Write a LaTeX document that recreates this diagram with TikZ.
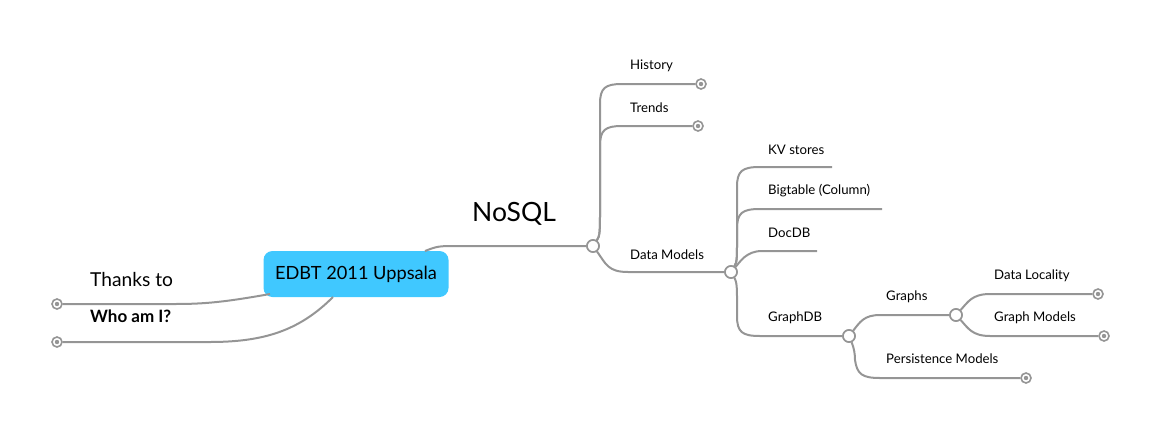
\documentclass[tikz,border=0pt]{standalone}
\usepackage{fontspec}
\setmainfont{Lato}
\definecolor{ln}{HTML}{959595}
\definecolor{cent}{HTML}{40C8FF}
\tikzset{
  br/.style={draw=ln, line width=2pt},
  knot/.style={circle, draw=ln, line width=1.6pt, fill=white, minimum size=12pt, inner sep=0pt},
  leaf/.style={circle, draw=ln, line width=1.6pt, fill=white, minimum size=10pt, inner sep=0pt, path picture={\fill[ln] (path picture bounding box.center) circle (2.2pt);}},
  lbl/.style={anchor=west, inner sep=0pt, font=\fontsize{13.2}{15}\selectfont},
}
\begin{document}
\begin{tikzpicture}[x=1pt,y=-1pt]
\useasboundingbox (0,0) rectangle (1161,426);
% central
\node[fill=cent, rounded corners=9pt, minimum width=185pt, minimum height=46pt, font=\fontsize{18.2}{20}\selectfont] (c) at (356,274) {EDBT 2011 Uppsala};
% left
\node[leaf] (t) at (57,304) {};
\node[leaf] (w) at (57,342) {};
\draw[br] (270,294) coordinate (c1) .. controls (225,302) and (205,304) .. (175,304) -- (t);
\draw[br] (333,297) coordinate (c2) .. controls (300,330) and (265,342) .. (210,342) -- (w);
\node[anchor=west, inner sep=0pt, font=\fontsize{19.2}{21}\selectfont] (tl) at (90,279) {Thanks to};
\node[anchor=west, inner sep=0pt, font=\fontsize{17}{19}\selectfont\bfseries] (wl) at (90,316) {Who am I?};
% NoSQL
\node[knot] (n) at (593,246) {};
\draw[br] (425,251) coordinate (c3) .. controls (438,246) .. (460,246) -- (n);
\node[anchor=west, inner sep=0pt, font=\fontsize{26.5}{28}\selectfont] (nl) at (472,214) {NoSQL};
\node[leaf] (h) at (701,84) {};
\node[leaf] (tr) at (698,126) {};
\node[knot] (dm) at (731,272) {};
\draw[br] (n) .. controls (600,236) and (600,230) .. (600,210) -- (600,104) .. controls (600,88) and (605,84) .. (622,84) -- (h);
\draw[br] (n) .. controls (600,236) and (600,230) .. (600,210) -- (600,146) .. controls (600,130) and (605,126) .. (622,126) -- (tr);
\draw[br] (n) .. controls (606,264) and (608,272) .. (628,272) -- (dm);
\node[lbl] (hl) at (630,66) {History};
\node[lbl] (trl) at (630,108) {Trends};
\node[lbl] (dml) at (630,255) {Data Models};
% Data models children
\coordinate (kv) at (832,167);
\coordinate (bt) at (882,209);
\coordinate (dd) at (817,251);
\node[knot] (gdb) at (849,336) {};
\draw[br] (dm) .. controls (737,262) and (737,258) .. (737,240) -- (737,187) .. controls (737,171) and (742,167) .. (760,167) -- (kv);
\draw[br] (dm) .. controls (737,262) and (737,258) .. (737,240) -- (737,229) .. controls (737,213) and (742,209) .. (760,209) -- (bt);
\draw[br] (dm) .. controls (740,262) and (746,251) .. (762,251) -- (dd);
\draw[br] (dm) .. controls (737,282) and (737,290) .. (737,300) -- (737,316) .. controls (737,332) and (742,336) .. (760,336) -- (gdb);
\node[lbl] (kvl) at (768,150) {KV stores};
\node[lbl] (btl) at (768,191) {Bigtable (Column)};
\node[lbl] (ddl) at (768,233) {DocDB};
\node[lbl] (gdbl) at (768,318) {GraphDB};
% GraphDB children
\node[knot] (g) at (956,315) {};
\node[leaf] (pm) at (1026,378) {};
\draw[br] (gdb) .. controls (860,322) and (864,315) .. (880,315) -- (g);
\draw[br] (gdb) .. controls (854,348) and (855,354) .. (855,360) .. controls (857,374) and (862,378) .. (880,378) -- (pm);
\node[lbl] (gl) at (886,297) {Graphs};
\node[lbl] (pml) at (886,359) {Persistence Models};
% Graphs children
\node[leaf] (dl) at (1098,294) {};
\node[leaf] (gm) at (1104,336) {};
\draw[br] (g) .. controls (968,302) and (972,294) .. (990,294) -- (dl);
\draw[br] (g) .. controls (968,328) and (972,336) .. (990,336) -- (gm);
\node[lbl] (dll) at (994,276) {Data Locality};
\node[lbl] (gml) at (994,318) {Graph Models};
% redraw knots on top
\node[knot] at (n) {};
\node[knot] at (dm) {};
\node[knot] at (gdb) {};
\node[knot] at (g) {};
\end{tikzpicture}
\end{document}
